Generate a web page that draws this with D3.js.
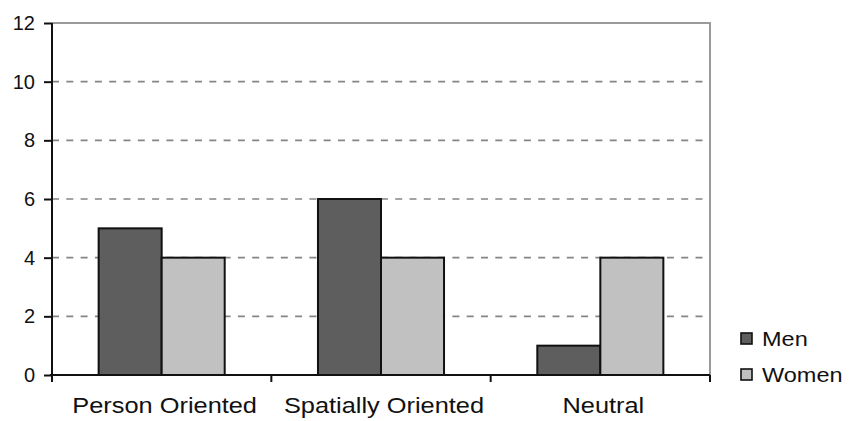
<!DOCTYPE html>
<html>
<head>
<meta charset="utf-8">
<script src="https://cdn.jsdelivr.net/npm/d3@7"></script>
<style>
  html, body { margin: 0; padding: 0; background: #fff; }
  svg { display: block; font-family: "Liberation Sans", Arial, sans-serif; }
</style>
</head>
<body>
<svg id="chart" width="854" height="421"></svg>
<script>
// Orientation categories and counts per group
const categories = ["Person Oriented", "Spatially Oriented", "Neutral"];
const seriesNames = ["Men", "Women"];
const menValues = [5, 6, 1];
const womenValues = [4, 4, 4];
const yTicks = [0, 2, 4, 6, 8, 10, 12];

const colors = { Men: "#5e5e5e", Women: "#c1c1c1" };
const values = { Men: menValues, Women: womenValues };

const svg = d3.select("#chart");
const plotLeft = 52, plotRight = 710, plotTop = 23, plotBottom = 375;

const x = d3.scaleBand().domain(categories).range([plotLeft, plotRight]).paddingInner(0).paddingOuter(0);
const xSeries = d3.scaleBand().domain(seriesNames).range([0, x.bandwidth()]).paddingInner(0).paddingOuter(0.74);
const y = d3.scaleLinear().domain([0, 12]).range([plotBottom, plotTop]);

// Plot-area frame (top and right edges)
svg.append("path")
  .attr("d", `M${plotLeft},${y(12)}H${plotRight}V${plotBottom}`)
  .attr("fill", "none")
  .attr("stroke", "#9a9a9a")
  .attr("stroke-width", 2);

// Dashed horizontal gridlines
svg.append("g")
  .selectAll("line")
  .data(yTicks.filter(t => t > 0 && t < 12))
  .join("line")
  .attr("x1", plotLeft).attr("x2", plotRight)
  .attr("y1", d => y(d)).attr("y2", d => y(d))
  .attr("stroke", "#858585")
  .attr("stroke-width", 1.7)
  .attr("stroke-dasharray", "7,7.3");

// Bars
const groups = svg.append("g")
  .selectAll("g")
  .data(categories)
  .join("g")
  .attr("transform", d => `translate(${x(d)},0)`);

groups.selectAll("rect")
  .data((c, i) => seriesNames.map(s => ({ s, v: values[s][i] })))
  .join("rect")
  .attr("x", d => xSeries(d.s))
  .attr("y", d => y(d.v))
  .attr("width", xSeries.bandwidth())
  .attr("height", d => y(0) - y(d.v))
  .attr("fill", d => colors[d.s])
  .attr("stroke", "#111")
  .attr("stroke-width", 2);

// Y axis
const yAxis = svg.append("g")
  .attr("transform", `translate(${plotLeft},0)`)
  .call(d3.axisLeft(y).tickValues(yTicks).tickSize(8).tickPadding(9).tickFormat(d3.format("d")));
yAxis.select(".domain").attr("stroke", "#111").attr("stroke-width", 2).attr("d", `M0,${y(12)}V${plotBottom + 7}`);
yAxis.selectAll(".tick line").attr("stroke", "#111").attr("stroke-width", 2);
yAxis.selectAll(".tick text").attr("font-size", 20).attr("fill", "#111").attr("font-family", "Liberation Sans, Arial, sans-serif");

// X axis with tick marks at category boundaries
const xAxis = svg.append("g").attr("transform", `translate(0,${plotBottom})`);
xAxis.append("line")
  .attr("x1", plotLeft - 2).attr("x2", plotRight)
  .attr("stroke", "#111").attr("stroke-width", 2);
const boundaries = categories.map(c => x(c) + x.bandwidth());
xAxis.selectAll("line.b")
  .data(boundaries)
  .join("line")
  .attr("class", "b")
  .attr("x1", d => d).attr("x2", d => d)
  .attr("y1", 0).attr("y2", 7)
  .attr("stroke", "#111").attr("stroke-width", 2);

// Category labels
svg.append("g")
  .selectAll("text")
  .data(categories)
  .join("text")
  .attr("transform", d => `translate(${x(d) + x.bandwidth() / 2 + 3},413) scale(1.18,1)`)
  .attr("text-anchor", "middle")
  .attr("font-size", 21.5)
  .attr("fill", "#111")
  .text(d => d);

// Legend
const legend = svg.append("g")
  .selectAll("g")
  .data(seriesNames)
  .join("g")
  .attr("transform", (d, i) => `translate(741,${333 + i * 36})`);
legend.append("rect")
  .attr("width", 11).attr("height", 11)
  .attr("fill", d => colors[d])
  .attr("stroke", "#111").attr("stroke-width", 1.6);
legend.append("text")
  .attr("transform", "translate(21,12.5) scale(1.12,1)")
  .attr("font-size", 21)
  .attr("fill", "#111")
  .text(d => d);
</script>
</body>
</html>
